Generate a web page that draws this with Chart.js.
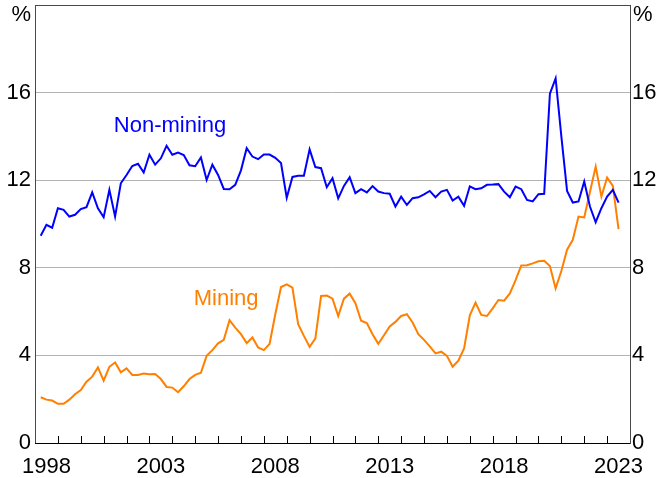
<!DOCTYPE html>
<html>
<head>
<meta charset="utf-8">
<script src="https://cdn.jsdelivr.net/npm/chart.js@4/dist/chart.umd.min.js"></script>
<style>
  html, body { margin: 0; padding: 0; background: #fff; }
  #wrap { width: 657px; height: 478px; position: relative; }
</style>
</head>
<body>
<div id="wrap"><canvas id="chart"></canvas></div>
<script>
// quarterly data, first observation 1998 Q1
const firstQuarter = 1998.25;
const labelYears = [1998, 2003, 2008, 2013, 2018, 2023];
const yTicks = [0, 4, 8, 12, 16];

const nonMining = [
    9.46, 9.96, 9.83, 10.72, 10.65, 10.34, 10.42, 10.68, 10.77, 11.44,
    10.72, 10.31, 11.56, 10.34, 11.86, 12.24, 12.65, 12.75, 12.35, 13.16,
    12.71, 13.0, 13.57, 13.16, 13.26, 13.15, 12.68, 12.64, 13.04, 12.01,
    12.71, 12.24, 11.6, 11.59, 11.79, 12.45, 13.46, 13.08, 12.96, 13.17,
    13.17, 13.02, 12.78, 11.2, 12.15, 12.2, 12.2, 13.41, 12.6, 12.55,
    11.68, 12.09, 11.17, 11.74, 12.14, 11.41, 11.59, 11.44, 11.73, 11.48,
    11.41, 11.38, 10.8, 11.25, 10.87, 11.18, 11.22, 11.35, 11.51, 11.22,
    11.48, 11.56, 11.07, 11.25, 10.83, 11.72, 11.59, 11.63, 11.79, 11.8,
    11.82, 11.48, 11.22, 11.71, 11.59, 11.1, 11.03, 11.36, 11.38, 15.95,
    16.65, 14.0, 11.51, 10.98, 11.03, 11.94, 10.8, 10.08, 10.72, 11.25,
    11.56, 10.98
];

const mining = [
    2.09, 1.98, 1.94, 1.79, 1.79, 1.98, 2.23, 2.42, 2.80, 3.03,
    3.45, 2.85, 3.48, 3.68, 3.23, 3.41, 3.11, 3.11, 3.17, 3.14,
    3.15, 2.92, 2.56, 2.53, 2.32, 2.59, 2.92, 3.11, 3.21, 3.98,
    4.24, 4.55, 4.71, 5.61, 5.27, 4.97, 4.56, 4.82, 4.36, 4.24,
    4.52, 5.88, 7.12, 7.24, 7.09, 5.42, 4.89, 4.39, 4.77, 6.71,
    6.73, 6.59, 5.80, 6.59, 6.82, 6.38, 5.58, 5.48, 4.97, 4.53,
    4.92, 5.32, 5.53, 5.80, 5.88, 5.5, 4.97, 4.71, 4.41, 4.09,
    4.17, 3.98, 3.48, 3.76, 4.32, 5.83, 6.41, 5.85, 5.80, 6.15,
    6.53, 6.50, 6.83, 7.44, 8.11, 8.12, 8.20, 8.30, 8.32, 8.08,
    7.06, 7.85, 8.83, 9.28, 10.34, 10.3, 11.46, 12.62, 11.25, 12.12,
    11.74, 9.77
];

const BLUE = '#0000ff';
const ORANGE = '#ff8000';
const FONT = '"Liberation Sans", Arial, sans-serif';

const toPoints = arr => arr.map((v, i) => ({ x: firstQuarter + i * 0.25, y: v }));

// frame, inward year ticks, % units and series names
const decorations = {
    id: 'decorations',
    afterDatasetsDraw(chart) {
        const { ctx, chartArea: a, scales } = chart;
        ctx.save();
        ctx.lineWidth = 1;
        ctx.strokeStyle = '#000';
        for (let yr = scales.x.min + 1; yr < scales.x.max; yr++) {
            const px = Math.round(scales.x.getPixelForValue(yr)) + 0.5;
            ctx.beginPath();
            ctx.moveTo(px, a.bottom);
            ctx.lineTo(px, a.bottom - 7);
            ctx.stroke();
        }
        ctx.strokeStyle = '#4a4a4a';
        ctx.strokeRect(Math.round(a.left) + 0.5, Math.round(a.top) + 0.5,
            Math.round(a.right - a.left), Math.round(a.bottom - a.top));
        ctx.strokeStyle = '#000';
        ctx.beginPath();
        ctx.moveTo(a.left, Math.round(a.bottom) + 0.5);
        ctx.lineTo(a.right, Math.round(a.bottom) + 0.5);
        ctx.stroke();

        ctx.font = '22px ' + FONT;
        ctx.textBaseline = 'middle';
        ctx.fillStyle = '#000';
        ctx.textAlign = 'right';
        ctx.fillText('%', a.left - 4, a.top + 10);
        ctx.textAlign = 'left';
        ctx.fillText('%', a.right + 3, a.top + 10);

        ctx.textAlign = 'center';
        ctx.fillStyle = BLUE;
        ctx.fillText('Non-mining', scales.x.getPixelForValue(2003.9), scales.y.getPixelForValue(14.5));
        ctx.fillStyle = ORANGE;
        ctx.fillText('Mining', scales.x.getPixelForValue(2006.35), scales.y.getPixelForValue(6.6));
        ctx.restore();
    }
};

const tickFont = { family: FONT, size: 22 };
const yGrid = {
    drawTicks: false,
    color: c => (c.tick.value === 0 || c.tick.value === 20) ? 'rgba(0,0,0,0)' : '#b4b4b4',
    lineWidth: 1
};
const noPad = s => { s.paddingTop = 0; s.paddingBottom = 0; s.paddingLeft = 0; s.paddingRight = 0; };

new Chart(document.getElementById('chart'), {
    type: 'line',
    data: {
        datasets: [
            { label: 'Non-mining', data: toPoints(nonMining), borderColor: BLUE, borderWidth: 2 },
            { label: 'Mining', data: toPoints(mining), borderColor: ORANGE, borderWidth: 2 }
        ]
    },
    options: {
        responsive: true,
        maintainAspectRatio: false,
        animation: false,
        layout: { padding: { top: 5, left: 0, right: 0, bottom: 0 } },
        elements: { point: { radius: 0 }, line: { tension: 0 } },
        plugins: { legend: { display: false }, tooltip: { enabled: false } },
        scales: {
            x: {
                type: 'linear',
                min: 1998,
                max: 2024,
                afterBuildTicks: s => { s.ticks = labelYears.map(y => ({ value: y + 0.5 })); },
                afterFit: s => { s.height = 35; noPad(s); },
                grid: { display: false },
                border: { display: false },
                ticks: {
                    autoSkip: false,
                    maxRotation: 0,
                    padding: 3,
                    color: '#000',
                    font: tickFont,
                    callback: v => String(Math.floor(v))
                }
            },
            y: {
                position: 'left',
                min: 0,
                max: 20,
                afterBuildTicks: s => { s.ticks = yTicks.concat([20]).map(v => ({ value: v })); },
                afterFit: s => { s.width = 35; noPad(s); },
                grid: yGrid,
                border: { display: false },
                ticks: { padding: 4, color: '#000', font: tickFont, callback: v => v === 20 ? '' : v }
            },
            y2: {
                position: 'right',
                min: 0,
                max: 20,
                afterBuildTicks: s => { s.ticks = yTicks.concat([20]).map(v => ({ value: v })); },
                afterFit: s => { s.width = 27; noPad(s); },
                grid: { display: false, drawTicks: false },
                border: { display: false },
                ticks: { padding: 2, color: '#000', font: tickFont, callback: v => v === 20 ? '' : v }
            }
        }
    },
    plugins: [decorations]
});
</script>
</body>
</html>
